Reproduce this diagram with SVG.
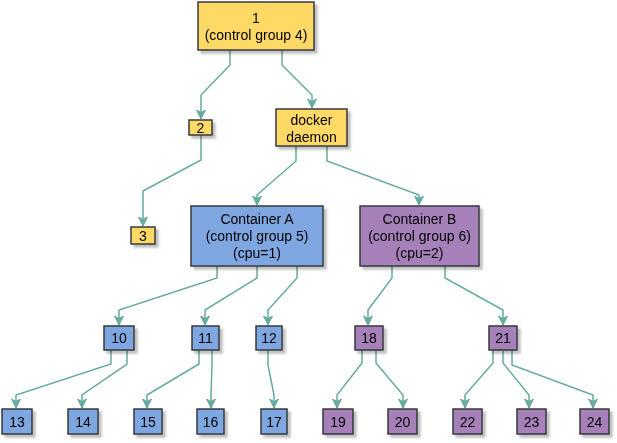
<svg xmlns="http://www.w3.org/2000/svg" width="617" height="443" viewBox="0 0 617 443">
<defs>
<filter id="sh" x="-20%" y="-20%" width="150%" height="150%">
<feGaussianBlur in="SourceAlpha" stdDeviation="1.2"/>
<feOffset dx="2.5" dy="2.5" result="b"/>
<feComponentTransfer><feFuncA type="linear" slope="0.25"/></feComponentTransfer>
<feMerge><feMergeNode/><feMergeNode in="SourceGraphic"/></feMerge>
</filter>
<marker id="ar" markerWidth="11" markerHeight="10" refX="9" refY="4.5" orient="auto" markerUnits="userSpaceOnUse">
<path d="M0,0 L9,4.5 L0,9 L2.5,4.5 Z" fill="#67AB9F" stroke="#67AB9F" stroke-width="1"/>
</marker>
</defs>
<style>
.y{fill:#FFD966}
.b{fill:#7EA6E0}
.p{fill:#A680B8}
rect{stroke:#36393d;stroke-width:1.5}
g.n{filter:url(#sh)}
text{font-family:"Liberation Sans",Arial,sans-serif;font-size:14px;fill:#000;text-anchor:middle}
#edges polyline{fill:none;stroke:#67AB9F;stroke-width:1.5;marker-end:url(#ar)}
</style>
<g id="edges">
<polyline points="230,50 230,65 201,95 201,119"/>
<polyline points="282,50 282,65 312,95 312,108"/>
<polyline points="201,135 201,160 143,191 143,226"/>
<polyline points="296,146 296,161 257,195 257,205"/>
<polyline points="327,146 327,161 419,195 419,205"/>
<polyline points="217,266 217,278 119,310 119,325"/>
<polyline points="257,266 257,278 205,310 205,325"/>
<polyline points="297,266 297,278 268,310 268,325"/>
<polyline points="392,266 392,278 368,310 368,325"/>
<polyline points="445,266 445,278 503,310 503,325"/>
<polyline points="111,350 111,364 16,395 16,408"/>
<polyline points="127,350 127,364 82,395 82,408"/>
<polyline points="199,350 199,364 147,395 147,408"/>
<polyline points="212,350 212,364 211,395 211,408"/>
<polyline points="268,350 268,365 274,395 274,408"/>
<polyline points="362,350 362,363 337,395 337,408"/>
<polyline points="376,350 376,363 403,395 403,408"/>
<polyline points="493,350 493,363 465,395 465,408"/>
<polyline points="503,350 503,363 529,395 529,408"/>
<polyline points="512,350 512,365 593,395 593,408"/>
</g>
<g id="n1" class="n"><rect class="y" x="198" y="2" width="116" height="48"/><text x="256" y="23">1</text><text x="256" y="40">(control group 4)</text></g>
<g id="n2" class="n"><rect class="y" x="189" y="120" width="23" height="15"/><text x="200.5" y="132.5">2</text></g>
<g id="nd" class="n"><rect class="y" x="276" y="109" width="71" height="37"/><text x="311.5" y="125">docker</text><text x="311.5" y="142">daemon</text></g>
<g id="n3" class="n"><rect class="y" x="131" y="227" width="24" height="17"/><text x="143" y="240.5">3</text></g>
<g id="nA" class="n"><rect class="b" x="191" y="206" width="132" height="60"/><text x="257" y="224">Container A</text><text x="257" y="241">(control group 5)</text><text x="257" y="258">(cpu=1)</text></g>
<g id="nB" class="n"><rect class="p" x="360" y="206" width="119" height="60"/><text x="419.5" y="224">Container B</text><text x="419.5" y="241">(control group 6)</text><text x="419.5" y="258">(cpu=2)</text></g>
<g id="n10" class="n"><rect class="b" x="104" y="326" width="30" height="24"/><text x="119" y="343">10</text></g>
<g id="n11" class="n"><rect class="b" x="192" y="326" width="27" height="24"/><text x="205.5" y="343">11</text></g>
<g id="n12" class="n"><rect class="b" x="256" y="326" width="26" height="24"/><text x="269" y="343">12</text></g>
<g id="n18" class="n"><rect class="p" x="355" y="326" width="28" height="24"/><text x="369" y="343">18</text></g>
<g id="n21" class="n"><rect class="p" x="489" y="326" width="28" height="24"/><text x="503" y="343">21</text></g>
<g id="n13" class="n"><rect class="b" x="2" y="409" width="30" height="25"/><text x="17" y="426.5">13</text></g>
<g id="n14" class="n"><rect class="b" x="68" y="409" width="30" height="25"/><text x="83" y="426.5">14</text></g>
<g id="n15" class="n"><rect class="b" x="134" y="409" width="28" height="25"/><text x="148" y="426.5">15</text></g>
<g id="n16" class="n"><rect class="b" x="197" y="409" width="27" height="25"/><text x="210.5" y="426.5">16</text></g>
<g id="n17" class="n"><rect class="b" x="261" y="409" width="26" height="25"/><text x="274" y="426.5">17</text></g>
<g id="n19" class="n"><rect class="p" x="323" y="409" width="30" height="25"/><text x="338" y="426.5">19</text></g>
<g id="n20" class="n"><rect class="p" x="388" y="409" width="29" height="25"/><text x="402.5" y="426.5">20</text></g>
<g id="n22" class="n"><rect class="p" x="453" y="409" width="29" height="25"/><text x="467.5" y="426.5">22</text></g>
<g id="n23" class="n"><rect class="p" x="517" y="409" width="29" height="25"/><text x="531.5" y="426.5">23</text></g>
<g id="n24" class="n"><rect class="p" x="580" y="409" width="29" height="25"/><text x="594.5" y="426.5">24</text></g>
</svg>
